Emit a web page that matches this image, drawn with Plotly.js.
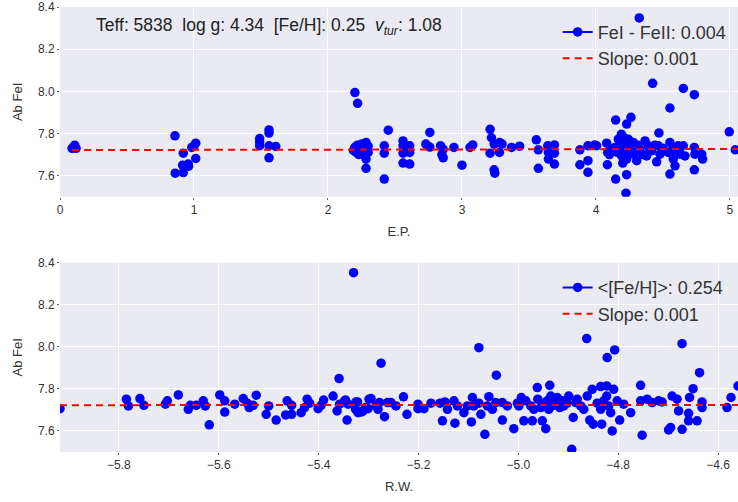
<!DOCTYPE html>
<html><head><meta charset="utf-8">
<script src="https://cdn.plot.ly/plotly-3.0.1.min.js"></script>
<style>html,body{margin:0;padding:0;background:#fff}</style>
</head><body><div id="chart" style="width:738px;height:502px"></div>
<script>
// ---- Top panel: excitation potential vs Fe I abundance ----
const ep = [0.09,0.11,0.12,0.10,0.858,0.86,0.92,0.92,0.915,0.957,0.96,0.983,1.013,1.013,1.0,
1.49,1.49,1.49,1.56,1.56,1.56,1.61,1.56,
2.201,2.221,2.19,2.20,2.21,2.22,2.23,2.24,2.25,2.26,2.27,2.284,2.284,2.284,2.29,2.30,2.30,
2.42,2.42,2.42,2.45,2.56,2.56,2.56,2.61,2.61,2.56,2.61,2.73,2.76,2.76,2.84,2.86,2.85,2.86,2.94,3.00,3.06,3.08,
3.21,3.22,3.24,3.28,3.30,3.21,3.28,3.24,3.245,3.37,3.43,3.555,3.57,3.57,3.64,3.645,3.645,3.69,3.69,3.69,
3.88,3.88,3.94,3.94,3.94,3.99,4.005,4.085,4.08,4.087,4.142,4.167,4.147,4.261,4.229,4.19,4.192,4.204,4.216,4.229,
4.241,4.254,4.279,4.284,4.304,4.328,4.366,4.378,4.39,4.415,4.453,4.465,4.478,4.47,4.552,4.565,4.577,4.59,4.614,
4.627,4.652,4.664,4.734,4.739,4.789,4.796,4.323,4.423,4.652,4.734,4.552,4.224,4.147,4.229,4.552,4.734,4.995,5.04,
4.16,4.18,4.20,4.22,4.24,4.27,4.31,4.35,4.40,4.44,4.50,4.54,4.60,4.63,4.58,4.12,4.10,4.21,4.23];
const abTop = [7.73,7.745,7.73,7.735,7.789,7.612,7.707,7.615,7.65,7.655,7.645,7.734,7.754,7.682,7.74,
7.776,7.742,7.76,7.817,7.802,7.742,7.739,7.685,
7.994,7.943,7.72,7.735,7.71,7.745,7.70,7.725,7.75,7.73,7.715,7.758,7.679,7.635,7.72,7.71,7.74,
7.742,7.707,7.584,7.816,7.765,7.742,7.707,7.742,7.71,7.66,7.655,7.75,7.736,7.805,7.742,7.725,7.70,7.685,7.734,7.65,7.734,7.746,
7.82,7.78,7.75,7.757,7.75,7.707,7.71,7.628,7.612,7.734,7.74,7.77,7.723,7.635,7.742,7.71,7.679,7.746,7.707,7.655,
7.723,7.652,7.742,7.671,7.616,7.746,7.742,7.652,7.754,7.71,7.734,7.773,7.864,7.877,7.845,7.797,7.694,7.75,7.718,7.679,
7.773,7.734,7.758,7.702,7.671,7.726,7.765,7.694,7.742,7.718,7.666,7.742,7.702,7.803,7.758,7.718,7.679,7.647,7.742,
7.702,7.742,7.694,7.734,7.702,7.702,7.679,8.348,8.038,8.014,7.984,7.921,7.517,7.584,7.605,7.608,7.628,7.808,7.723,
7.71,7.74,7.66,7.73,7.70,7.72,7.745,7.70,7.73,7.745,7.73,7.71,7.725,7.735,7.73,7.725,7.70,7.78,7.695];

// ---- Bottom panel: reduced width vs Fe I abundance ----
const rw = [-5.918,-5.785,-5.781,-5.758,-5.75,-5.707,-5.703,-5.681,-5.661,-5.657,-5.645,-5.631,-5.627,-5.619,
-5.598,-5.588,-5.588,-5.568,-5.551,-5.543,-5.539,-5.531,-5.525,-5.505,-5.5,-5.485,-5.466,-5.463,-5.454,-5.454,
-5.435,-5.428,-5.423,-5.418,-5.401,-5.395,-5.39,-5.371,-5.363,-5.359,-5.358,-5.346,-5.343,-5.33,
-5.348,-5.341,-5.325,-5.321,-5.311,-5.301,-5.295,-5.285,-5.278,-5.281,-5.268,-5.255,-5.245,-5.275,
-5.326,-5.322,-5.315,-5.306,-5.299,-5.262,
-5.23,-5.223,-5.201,-5.201,-5.189,-5.175,-5.157,-5.152,-5.147,-5.142,-5.129,-5.127,-5.122,-5.109,-5.102,-5.094,
-5.092,-5.089,-5.079,-5.079,-5.075,-5.067,-5.062,-5.059,-5.052,-5.045,-5.044,-5.032,-5.032,
-5.022,-5.009,-5.002,-4.994,-4.989,-4.975,-4.972,-4.962,-4.961,-4.955,-4.952,-4.945,-4.937,-4.935,-4.929,-4.922,
-4.917,-4.909,-4.899,-4.893,-4.89,-4.885,-4.882,-4.863,-4.862,-4.857,-4.852,-4.85,-4.835,-4.833,-4.823,-4.823,
-4.822,-4.812,-4.809,-4.807,-4.802,-4.797,-4.789,-4.775,-4.755,-4.755,-4.752,-4.742,-4.732,-4.719,-4.712,-4.699,
-4.695,-4.692,-4.682,-4.679,-4.672,-4.672,-4.659,-4.659,-4.657,-4.65,-4.642,-4.637,-4.632,-4.632,-4.582,-4.574,-4.56,
-4.999,-4.985,-4.969,-4.949,-4.942,-4.939,-4.932,-4.912,-4.902,-4.875,-4.869,-4.842,-4.835,-4.829,-4.819,-4.815];
const abBot = [7.706,7.751,7.719,7.754,7.722,7.727,7.743,7.771,7.703,7.722,7.722,7.743,7.719,7.629,
7.771,7.743,7.69,7.727,7.754,7.732,7.711,7.722,7.77,7.679,7.719,7.652,7.676,7.743,7.722,7.679,
7.687,7.711,7.751,7.732,7.706,7.722,7.747,7.766,7.695,7.849,7.727,7.747,7.652,8.352,
7.743,7.727,7.738,7.687,7.695,7.706,7.754,7.719,7.735,7.703,7.668,7.735,7.719,7.922,
7.703,7.738,7.69,7.711,7.751,7.735,
7.762,7.679,7.727,7.706,7.706,7.732,7.732,7.648,7.738,7.703,7.743,7.637,7.719,7.687,7.719,7.643,
7.759,7.719,7.996,7.732,7.679,7.584,7.719,7.763,7.703,7.735,7.865,7.652,7.735,
7.719,7.611,7.732,7.759,7.648,7.719,7.648,7.806,7.751,7.711,7.648,7.611,7.817,7.766,7.735,7.759,
7.711,7.719,7.766,7.513,7.664,7.735,7.751,8.039,7.766,7.652,7.798,7.632,7.811,7.632,7.814,7.766,
7.949,7.6,7.798,7.985,7.743,7.652,7.727,7.687,7.817,7.743,7.58,7.751,7.735,7.743,7.738,7.605,
7.616,7.766,7.751,7.695,8.015,7.608,7.648,7.684,7.759,7.801,7.648,7.877,7.711,7.738,7.711,7.759,7.814,
7.719,7.743,7.703,7.732,7.743,7.703,7.719,7.743,7.732,7.719,7.703,7.732,7.703,7.743,7.719,7.687];

// ---- Fits and labels ----
const fitEP = {slope: 0.001, intercept: 7.7215};
const fitRW = {slope: 0.001, intercept: 7.7285};
const epRange = [0, 5.06];
const yRange = [7.5, 8.4];
const yTicks = [7.6, 7.8, 8.0, 8.2, 8.4];
const epTicks = [0, 1, 2, 3, 4, 5];
const rwTicks = [-5.8, -5.6, -5.4, -5.2, -5.0, -4.8, -4.6];
const legendTop = ["FeI - FeII: 0.004", "Slope: 0.001"];
const legendBot = ["&lt;[Fe/H]&gt;: 0.254", "Slope: 0.001"];
const paramText = "Teff: 5838  log g: 4.34  [Fe/H]: 0.25  <i>v</i><sub><i>tur</i></sub>: 1.08";

const rwRange = [Math.min(...rw), Math.max(...rw)];
const epLineX = [Math.min(...ep), epRange[1]];
const rwLineX = rwRange.slice();

const FONT = "Liberation Sans, Arial, sans-serif";
const TXT = "#333333";
const mk = {color: "#0000ff", size: 9.5};
const dash = {color: "#ff0000", width: 2, dash: "7px,5px"};

const traces = [
  {x: ep, y: abTop, mode: "markers", marker: mk, xaxis: "x", yaxis: "y", showlegend: false, hoverinfo: "skip"},
  {x: epLineX, y: epLineX.map(v => fitEP.intercept + fitEP.slope * v), mode: "lines", line: dash, xaxis: "x", yaxis: "y", showlegend: false},
  {x: rw, y: abBot, mode: "markers", marker: mk, xaxis: "x2", yaxis: "y2", showlegend: false},
  {x: rwLineX, y: rwLineX.map(v => fitRW.intercept + fitRW.slope * v), mode: "lines", line: dash, xaxis: "x2", yaxis: "y2", showlegend: false},
  // legend entries
  {x: [null], y: [null], mode: "lines+markers", marker: mk, line: {color: "#0000ff", width: 2}, name: legendTop[0], xaxis: "x", yaxis: "y", legend: "legend"},
  {x: [null], y: [null], mode: "lines", line: dash, name: legendTop[1], xaxis: "x", yaxis: "y", legend: "legend"},
  {x: [null], y: [null], mode: "lines+markers", marker: mk, line: {color: "#0000ff", width: 2}, name: legendBot[0], xaxis: "x2", yaxis: "y2", legend: "legend2"},
  {x: [null], y: [null], mode: "lines", line: dash, name: legendBot[1], xaxis: "x2", yaxis: "y2", legend: "legend2"}
];

const axBase = {
  showgrid: true, gridcolor: "#ffffff", gridwidth: 1, zeroline: false, showline: false,
  ticks: "outside", ticklen: 2, tickcolor: "#666", tickwidth: 1,
  tickfont: {family: FONT, size: 12, color: TXT}
};
const legBase = {
  font: {family: FONT, size: 18, color: TXT}, bgcolor: "rgba(0,0,0,0)", borderwidth: 0,
  xanchor: "left", yanchor: "middle", tracegroupgap: 0, itemwidth: 30
};

const layout = {
  width: 738, height: 502,
  margin: {l: 60, r: 0, t: 7, b: 50},
  paper_bgcolor: "#ffffff", plot_bgcolor: "#eaeaf2",
  font: {family: FONT, color: TXT},
  xaxis: Object.assign({}, axBase, {domain: [0, 1], range: epRange, tickvals: epTicks, anchor: "y",
    title: {text: "E.P.", font: {family: FONT, size: 13, color: TXT}, standoff: 10}}),
  yaxis: Object.assign({}, axBase, {domain: [0.5735, 1], range: yRange, tickvals: yTicks, tickformat: ".1f", anchor: "x",
    title: {text: "Ab FeI", font: {family: FONT, size: 13, color: TXT}, standoff: 12}}),
  xaxis2: Object.assign({}, axBase, {domain: [0, 1], range: rwRange, tickvals: rwTicks, tickformat: ".1f", anchor: "y2",
    title: {text: "R.W.", font: {family: FONT, size: 13, color: TXT}, standoff: 10}}),
  yaxis2: Object.assign({}, axBase, {domain: [0, 0.4256], range: yRange, tickvals: yTicks, tickformat: ".1f", anchor: "x2",
    title: {text: "Ab FeI", font: {family: FONT, size: 13, color: TXT}, standoff: 12}}),
  legend: Object.assign({}, legBase, {x: 0.734, y: 0.914}),
  legend2: Object.assign({}, legBase, {x: 0.734, y: 0.34}),
  annotations: [{
    text: paramText, xref: "paper", yref: "paper", x: 0.05, y: 0.956, xanchor: "left", yanchor: "middle",
    showarrow: false, font: {family: FONT, size: 17.5, color: "#222"}
  }]
};

Plotly.newPlot("chart", traces, layout, {displayModeBar: false, staticPlot: true});
</script></body></html>
